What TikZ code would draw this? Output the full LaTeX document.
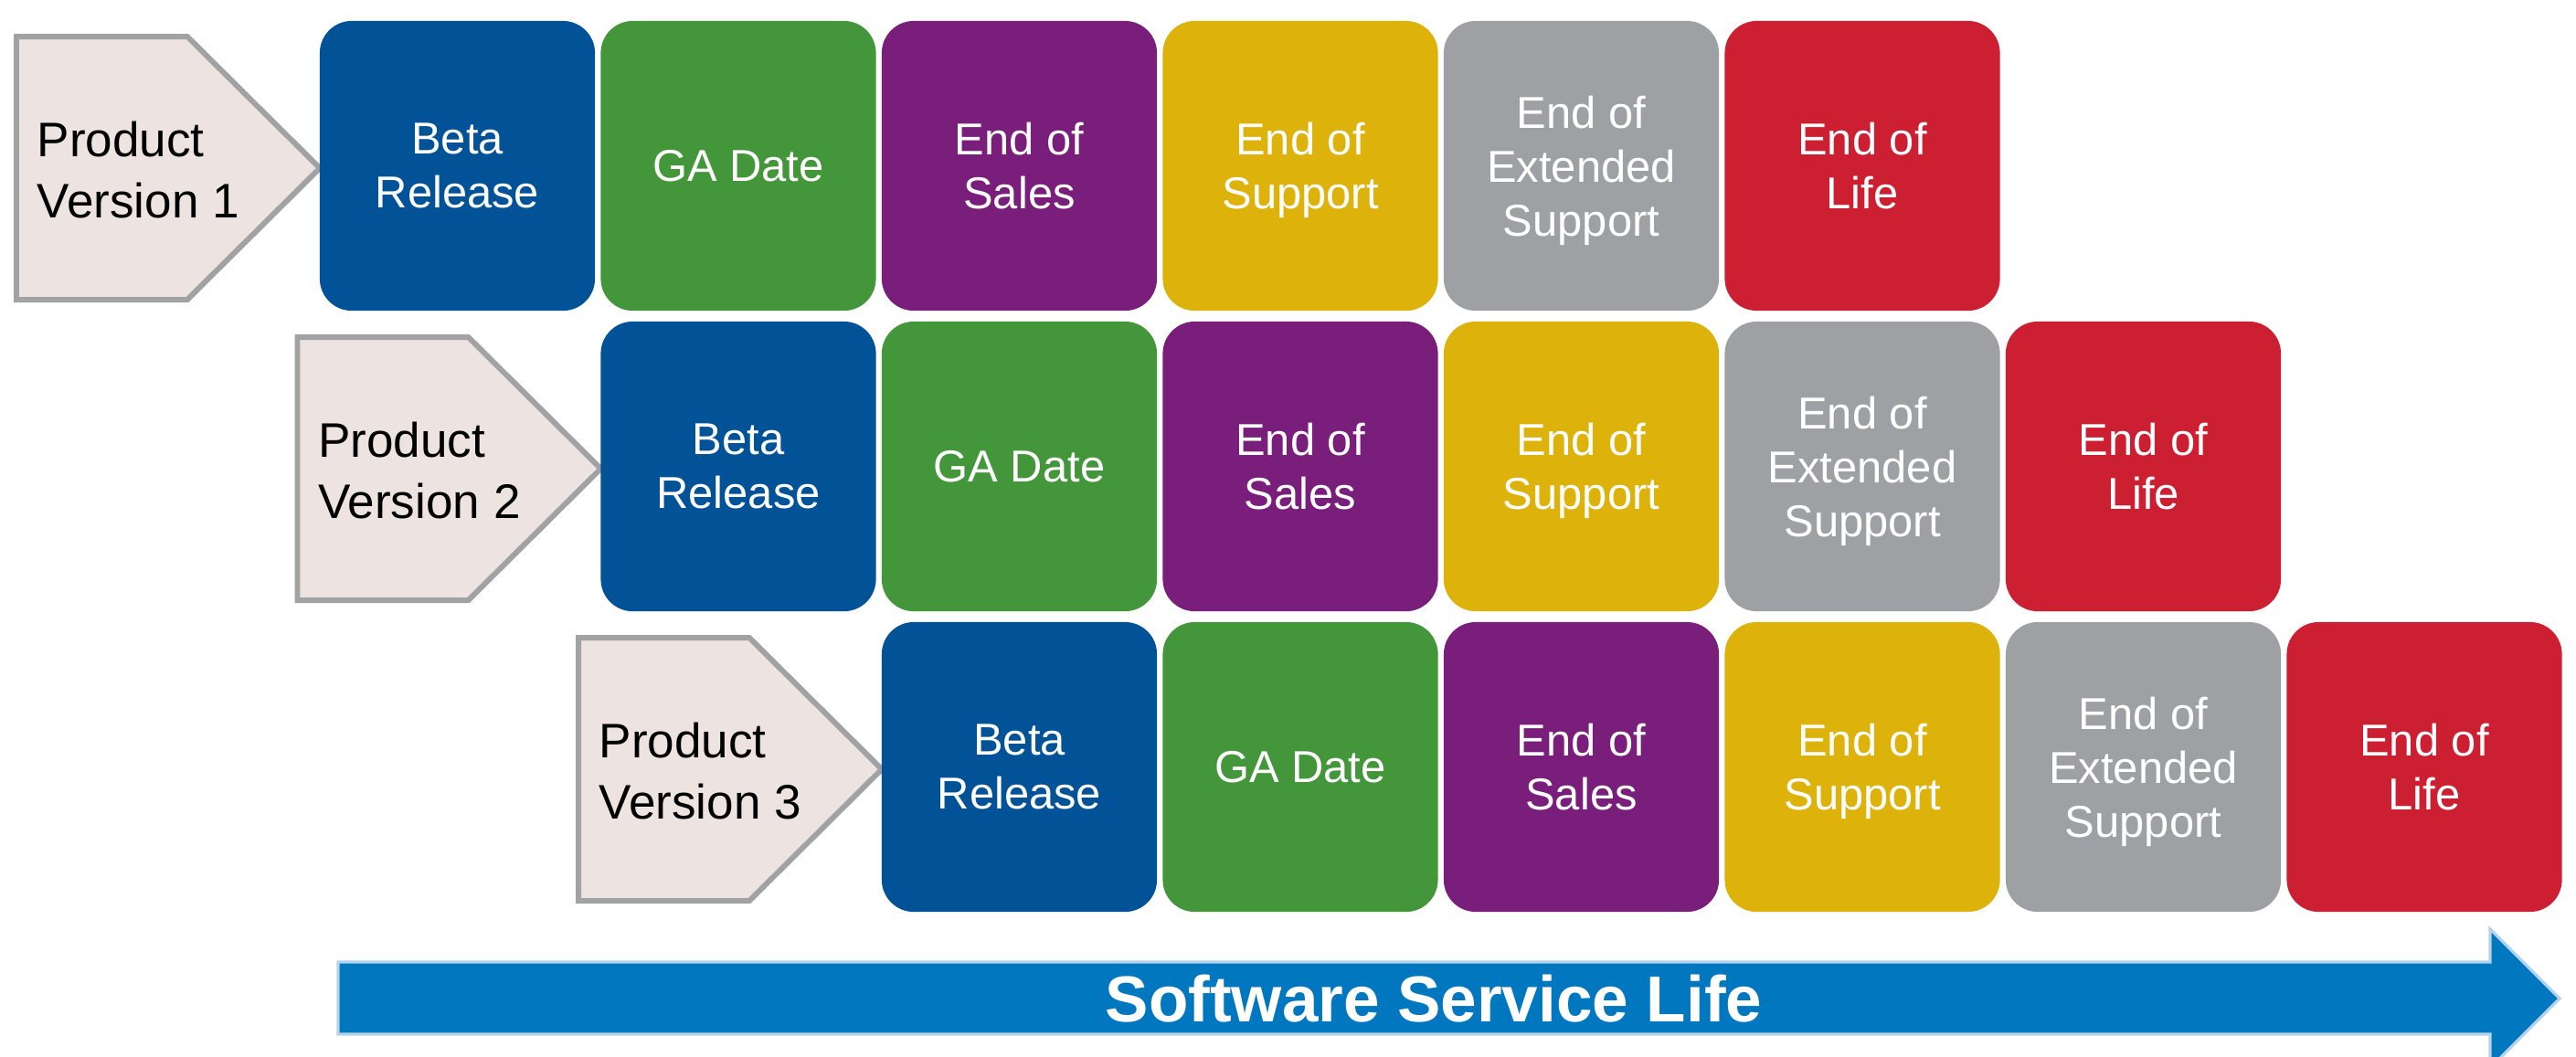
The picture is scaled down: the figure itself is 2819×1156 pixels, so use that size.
\documentclass[tikz,border=0pt]{standalone}
\usepackage{fontspec}
\setmainfont{Liberation Sans}
\definecolor{cBeta}{RGB}{2,82,152}
\definecolor{cGA}{RGB}{67,150,58}
\definecolor{cSales}{RGB}{122,30,123}
\definecolor{cSupp}{RGB}{221,178,10}
\definecolor{cExt}{RGB}{158,160,163}
\definecolor{cLife}{RGB}{205,31,50}
\definecolor{cPent}{RGB}{237,227,224}
\definecolor{cPentLine}{RGB}{160,162,164}
\definecolor{cArrow}{RGB}{0,119,190}
\definecolor{cArrowEdge}{RGB}{180,212,236}
\tikzset{
  phase/.style={rounded corners=0.35cm, minimum width=3.01cm, minimum height=3.17cm,
    inner sep=0pt, text=white, align=center, font=\fontsize{13.9}{16.8}\selectfont},
  verbox/.style={fill=cPent, draw=cPentLine, line width=1.7pt, line join=miter},
  vertext/.style={anchor=west, align=left, inner sep=0pt, text=black,
    font=\fontsize{15.1}{19.1}\selectfont},
  lifearrow/.style={fill=cArrow, draw=cArrowEdge, line width=0.9pt},
  arrowtext/.style={text=white, inner sep=0pt, font=\fontsize{20.2}{24}\selectfont\bfseries},
}
\begin{document}
\begin{tikzpicture}[x=0.01cm, y=-0.01cm]
\clip (0,0) rectangle (2819,1156);
\fill[white] (0,0) rectangle (2819,1156);
% version pentagons
\foreach \r/\n in {0/1,1/2,2/3}{
  \draw[verbox] ({18+\r*307.5},{40+\r*329}) -- ({205+\r*307.5},{40+\r*329})
     -- ({350+\r*307.5},{184+\r*329}) -- ({205+\r*307.5},{328+\r*329})
     -- ({18+\r*307.5},{328+\r*329}) -- cycle;
  \node[vertext] (pv\n) at ({40+\r*307.5},{186+\r*329}) {Product\\Version \n};
}
% phase boxes
\foreach \r in {0,1,2}{
  \foreach \c/\col/\txt in {0/cBeta/{Beta\\Release},1/cGA/{GA Date},2/cSales/{End of\\Sales},
      3/cSupp/{End of\\\smash{Support}},4/cExt/{End of\\Extended\\\smash{Support}},5/cLife/{End of\\Life}}{
    \node[phase, fill=\col] (b\r\c) at ({500.5+(\r+\c)*307.5},{181.5+\r*329}) {\txt};
  }
}
% service life arrow
\draw[lifearrow] (370,1053) -- (2725,1053) -- (2725,1017) -- (2801,1093)
   -- (2725,1169) -- (2725,1132) -- (370,1132) -- cycle;
\node[arrowtext] (ssl) at (1569,1093) {Software Service Life};
\end{tikzpicture}
\end{document}
